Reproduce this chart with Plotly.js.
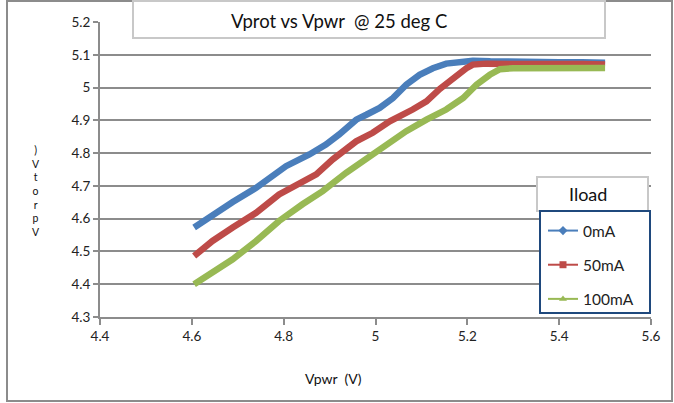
<!DOCTYPE html>
<html>
<head>
<meta charset="utf-8">
<script src="https://cdn.plot.ly/plotly-3.0.1.min.js"></script>
<style>html,body{margin:0;padding:0;background:#fff;}#chart{width:674px;height:403px;}</style>
</head>
<body>
<div id="chart"></div>
<script>
// Series names
const seriesNames = ["0mA", "50mA", "100mA"];
// 0mA
const x0 = [4.605, 4.645, 4.689, 4.740, 4.769, 4.805, 4.856, 4.892, 4.921, 4.958, 4.980, 5.009, 5.038, 5.067, 5.096, 5.125, 5.154, 5.183, 5.212, 5.25, 5.30, 5.35, 5.40, 5.45, 5.50];
const y0 = [4.573, 4.613, 4.651, 4.694, 4.725, 4.760, 4.796, 4.826, 4.857, 4.902, 4.917, 4.938, 4.968, 5.009, 5.039, 5.059, 5.073, 5.080, 5.082, 5.080, 5.078, 5.078, 5.077, 5.077, 5.076];
// 50mA
const x1 = [4.605, 4.645, 4.689, 4.740, 4.790, 4.841, 4.871, 4.907, 4.958, 4.994, 5.031, 5.081, 5.111, 5.140, 5.169, 5.198, 5.212, 5.241, 5.30, 5.35, 5.40, 5.45, 5.50];
const y1 = [4.486, 4.532, 4.573, 4.618, 4.674, 4.710, 4.735, 4.781, 4.836, 4.862, 4.897, 4.933, 4.958, 4.996, 5.029, 5.059, 5.070, 5.073, 5.072, 5.073, 5.072, 5.072, 5.070];
// 100mA
const x2 = [4.605, 4.645, 4.689, 4.740, 4.790, 4.841, 4.885, 4.936, 4.980, 5.023, 5.067, 5.111, 5.154, 5.191, 5.220, 5.249, 5.271, 5.300, 5.35, 5.40, 5.45, 5.50];
const y2 = [4.400, 4.436, 4.476, 4.532, 4.593, 4.644, 4.684, 4.740, 4.781, 4.821, 4.867, 4.902, 4.933, 4.968, 5.009, 5.039, 5.056, 5.059, 5.060, 5.060, 5.060, 5.060];

// Y-axis title, drawn as stacked glyphs (top to bottom)
const yTitleStack = [")", "V", "t", "o", "r", "p", "V"];

const colors = ["#4a7ebb", "#be4b48", "#98b954"];
const symbols = ["diamond", "square", "triangle-up"];
const xs = [x0, x1, x2], ys = [y0, y1, y2];

const traces = [];
for (let i = 0; i < 3; i++) {
  traces.push({
    x: xs[i], y: ys[i], type: "scatter", mode: "lines",
    line: {color: colors[i], width: 6.5}, showlegend: false, hoverinfo: "skip"
  });
}
for (let i = 0; i < 3; i++) {
  traces.push({
    x: [null], y: [null], type: "scatter", mode: "lines+markers", name: seriesNames[i],
    legendgroup: "g" + i,
    line: {color: colors[i], width: 2}, marker: {color: colors[i], symbol: symbols[i], size: 7}
  });
}

const PL = 100, PR = 651, PT = 22, PB = 317;
const W = PR - PL, H = PB - PT;
const px = v => (v - PL) / W;
const py = v => (PB - v) / H;

const font = "Lato, 'Open Sans', sans-serif";

const annotations = [
  {text: "Vprot vs Vpwr  @ 25 deg C", xref: "paper", yref: "paper", x: px(339), y: py(21),
   showarrow: false, xanchor: "center", yanchor: "middle", font: {family: font, size: 18.5, color: "#111"}},
  {text: "Vpwr  (V)", xref: "paper", yref: "paper", x: px(333), y: py(378),
   showarrow: false, xanchor: "center", yanchor: "middle", font: {family: font, size: 14, color: "#111"}},
  {text: "Iload", xref: "paper", yref: "paper", x: px(588), y: py(194),
   showarrow: false, xanchor: "center", yanchor: "middle", font: {family: font, size: 18, color: "#111"}},
  {text: yTitleStack.join("<br>"), xref: "paper", yref: "paper", x: px(36), y: py(191),
   showarrow: false, xanchor: "center", yanchor: "middle", font: {family: font, size: 10.5, color: "#111"}}
];

const layout = {
  width: 674, height: 403,
  margin: {l: PL, r: 674 - PR, t: PT, b: 403 - PB, pad: 0},
  paper_bgcolor: "#ffffff", plot_bgcolor: "#ffffff",
  font: {family: font, size: 13, color: "#222"},
  xaxis: {
    range: [4.4, 5.6], dtick: 0.2, tick0: 4.4,
    showgrid: false, zeroline: false, showline: true, linecolor: "#8c8c8c", linewidth: 2,
    ticks: "outside", ticklen: 6, tickwidth: 2, tickcolor: "#8c8c8c",
    tickfont: {family: font, size: 13.5, color: "#222"}
  },
  yaxis: {
    range: [4.3, 5.2], dtick: 0.1, tick0: 4.3,
    showgrid: true, gridcolor: "#8c8c8c", gridwidth: 2,
    zeroline: false, showline: true, linecolor: "#8c8c8c", linewidth: 2,
    ticks: "outside", ticklen: 5, tickwidth: 2, tickcolor: "#8c8c8c",
    tickfont: {family: font, size: 13.5, color: "#222"}
  },
  showlegend: true,
  legend: {
    x: px(543), xanchor: "left", y: py(214), yanchor: "top",
    bgcolor: "rgba(0,0,0,0)", borderwidth: 0,
    font: {family: font, size: 15.5, color: "#222"},
    tracegroupgap: 11, traceorder: "grouped"
  },
  shapes: [
    {type: "rect", xref: "paper", yref: "paper", x0: px(7), x1: px(672), y0: py(401), y1: py(1),
     line: {color: "#8c8c8c", width: 2}, layer: "above"},
    {type: "rect", xref: "paper", yref: "paper", x0: px(133), x1: px(605), y0: py(38), y1: py(1),
     line: {color: "#c8c8c8", width: 2}, fillcolor: "#ffffff", layer: "above"},
    {type: "rect", xref: "paper", yref: "paper", x0: px(537), x1: px(648), y0: py(211), y1: py(177),
     line: {color: "#c8c8c8", width: 2}, fillcolor: "#ffffff", layer: "above"},
    {type: "rect", xref: "paper", yref: "paper", x0: px(540), x1: px(650), y0: py(313), y1: py(211),
     line: {color: "#1f497d", width: 2}, fillcolor: "#ffffff", layer: "above"}
  ],
  annotations: annotations
};

Plotly.newPlot("chart", traces, layout, {staticPlot: true, displayModeBar: false});
</script>
</body>
</html>
